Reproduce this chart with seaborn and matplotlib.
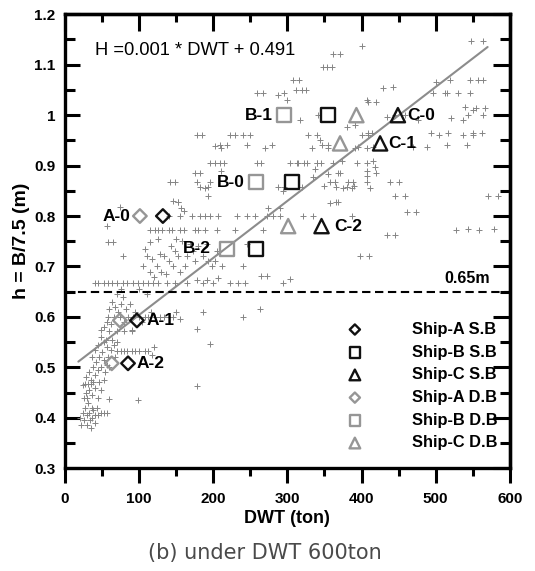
import matplotlib
matplotlib.use("Agg")
import matplotlib.pyplot as plt
import seaborn as sns
import numpy as np
import pandas as pd

# ---------------- data ----------------
# survey ships (grey '+' points), by band of h: DWT (ton) and h = B/7.5 (m)
band1_dwt = [20, 22, 24, 26, 27, 29, 30, 31, 33, 34,
             35, 36, 37, 38, 40, 41, 43, 45, 48, 52,
             56, 25, 28, 30, 33, 36, 40, 44, 24, 27,
             31, 35, 38, 48, 98, 60]
band1_h = [.40, .385, .41, .395, .42, .405, .385, .43, .41, .395,
           .38, .42, .40, .415, .405, .39, .42, .405, .41, .41,
           .41, .44, .45, .44, .455, .445, .46, .44, .465, .467,
           .467, .467, .47, .455, .435, .438]

band2_dwt = [28, 32, 35, 38, 40, 42, 44, 46, 48, 50,
             52, 54, 56, 58, 60, 46, 52, 36, 40, 44,
             48, 53, 57, 62, 66, 70, 75, 79, 84, 90,
             95, 100, 108, 112, 118, 120, 68, 64]
band2_h = [.48, .49, .475, .50, .485, .51, .495, .52, .50, .53,
           .515, .49, .505, .52, .50, .47, .475, .52, .535, .545,
           .56, .55, .54, .535, .545, .533, .533, .533, .533, .533,
           .533, .533, .533, .533, .525, .54, .52, .555]

band3_dwt = [48, 52, 56, 58, 60, 62, 64, 66, 68, 70,
             72, 74, 76, 78, 80, 82, 85, 88, 90, 92,
             95, 100, 104, 108, 112, 116, 122, 128, 134, 140,
             146, 150, 155, 186, 240, 263, 178, 195, 178, 60,
             70, 80, 90, 55, 70]
band3_h = [.575, .58, .59, .60, .615, .585, .63, .60, .62, .645,
           .61, .60, .625, .64, .59, .615, .60, .625, .575, .60,
           .61, .60, .59, .60, .60, .61, .60, .60, .60, .60,
           .60, .61, .595, .61, .60, .616, .577, .547, .464, .573,
           .573, .573, .573, .555, .55]

band4_dwt = [40, 45, 52, 58, 64, 70, 78, 84, 92, 98,
             105, 112, 119, 126, 137, 148, 164, 186, 199, 222,
             233, 294, 178, 191, 265, 398, 75, 100, 110, 206,
             243, 272, 303]
band4_h = [.667, .667, .667, .667, .667, .667, .667, .667, .667, .667,
           .667, .667, .667, .667, .667, .667, .667, .667, .667, .667,
           .667, .667, .674, .674, .682, .72, .655, .655, .645, .678,
           .667, .682, .676]

band5_dwt = [105, 110, 114, 118, 120, 124, 128, 130, 133, 136,
             140, 143, 146, 148, 152, 155, 158, 162, 165, 168,
             172, 176, 180, 186, 192, 198, 205, 212, 58, 126,
             150, 240, 245, 65, 78, 108, 115, 193, 202, 410]
band5_h = [.70, .72, .69, .715, .68, .70, .725, .69, .72, .685,
           .71, .74, .70, .73, .72, .69, .75, .70, .72, .745,
           .73, .71, .74, .72, .745, .70, .73, .70, .748, .755,
           .755, .70, .745, .748, .72, .734, .748, .71, .71, .72]

band6_dwt = [115, 121, 126, 131, 140, 144, 155, 160, 175, 179,
             189, 205, 229, 267, 528, 559, 434, 543, 579, 445,
             57]
band6_h = [.773, .773, .773, .773, .773, .773, .773, .773, .773, .773,
           .773, .773, .773, .773, .773, .773, .762, .775, .775, .762,
           .78]

band7_dwt = [140, 155, 171, 182, 189, 195, 206, 232, 245, 256,
             272, 280, 290, 321, 334, 461, 74, 146, 357, 387,
             474, 274, 290, 152, 157, 160]
band7_h = [.80, .80, .80, .80, .80, .80, .80, .80, .80, .80,
           .80, .80, .80, .80, .80, .807, .817, .83, .825, .80,
           .807, .815, .815, .827, .815, .81]

band8_dwt = [141, 178, 182, 195, 175, 211, 287, 319, 357, 366,
             380, 382, 389, 407, 438, 445, 335, 355, 337, 407,
             407, 195, 209, 259, 303, 314, 326, 340, 361, 394,
             407, 570, 296, 294, 182, 193, 193, 368, 364, 368,
             152, 202, 215, 265, 313, 323, 340, 345, 375, 387,
             411, 458, 366, 584, 373, 371, 415, 418, 420, 451,
             350, 390, 148, 189]
band8_h = [.867, .867, .857, .867, .885, .89, .857, .857, .867, .857,
           .857, .867, .867, .867, .867, .84, .877, .884, .894, .89,
           .88, .906, .906, .906, .906, .906, .906, .906, .906, .906,
           .906, .84, .857, .85, .885, .857, .84, .885, .867, .827,
           .827, .906, .906, .906, .906, .906, .906, .906, .855, .855,
           .855, .84, .827, .84, .91, .885, .91, .897, .885, .867,
           .86, .86, .867, .855]

band9_dwt = [185, 229, 249, 209, 218, 246, 279, 340, 346, 355,
             178, 222, 240, 202, 211, 270, 328, 333, 344, 355,
             391, 400, 409, 407, 380, 505, 537, 550, 515, 494,
             469, 434, 391, 409, 414, 395, 415, 488, 516, 550,
             562, 542, 445, 458, 476, 543, 537, 564, 521, 341,
             317]
band9_h = [.96, .96, .96, .94, .94, .94, .94, .96, .94, .94,
           .96, .96, .96, .938, .935, .935, .96, .935, .95, .935,
           .935, .96, .96, .935, .976, .96, .96, .96, .94, .964,
           .936, .996, .98, .964, .964, .936, .936, .936, .964, .964,
           .964, .94, 1.0, 1.0, .99, 1.0, .99, 1.0, .995, 1.0,
           .99]

band10_dwt = [361, 400, 348, 307, 312, 259, 287, 429, 407, 501,
              546, 546, 496, 515, 548, 539, 550, 371, 564, 442,
              420, 512, 530, 557, 564, 519, 555, 566, 354, 360,
              315, 320, 325, 267, 296, 299, 409]
band10_h = [1.122, 1.138, 1.095, 1.07, 1.05, 1.043, 1.04, 1.053, 1.03, 1.066,
            1.07, 1.043, 1.043, 1.043, 1.148, 1.016, 1.01, 1.122, 1.148, 1.055,
            1.027, 1.043, 1.043, 1.069, 1.069, 1.07, 1.015, 1.015, 1.095, 1.095,
            1.069, 1.049, 1.049, 1.043, 1.043, 1.03, 1.026]

# studied ships: single bottom (S.B) and double bottom (D.B)
ship_a_sb_dwt = [132, 97, 85]
ship_a_sb_h = [0.800, 0.593, 0.508]
ship_b_sb_dwt = [306, 355, 258]
ship_b_sb_h = [0.867, 1.000, 0.735]
ship_c_sb_dwt = [449, 425, 346]
ship_c_sb_h = [1.000, 0.944, 0.780]
ship_a_db_dwt = [101, 74, 63]
ship_a_db_h = [0.800, 0.593, 0.508]
ship_b_db_dwt = [258, 295, 218]
ship_b_db_h = [0.867, 1.000, 0.735]
ship_c_db_dwt = [393, 371, 301]
ship_c_db_h = [1.000, 0.944, 0.780]

ship_a_names = ["A-0", "A-1", "A-2"]
ship_b_names = ["B-0", "B-1", "B-2"]
ship_c_names = ["C-0", "C-1", "C-2"]

legend_labels = ["Ship-A S.B", "Ship-B S.B", "Ship-C S.B",
                 "Ship-A D.B", "Ship-B D.B", "Ship-C D.B"]

# regression line as drawn
fit_slope = 0.00113
fit_intercept = 0.491
fit_range = [18, 570]
equation_text = "H =0.001 * DWT + 0.491"
limit_h = 0.65

x_ticks = [0, 100, 200, 300, 400, 500, 600]
y_ticks = [0.3, 0.4, 0.5, 0.6, 0.7, 0.8, 0.9, 1.0, 1.1, 1.2]
y_tick_labels = ["0.3", "0.4", "0.5", "0.6", "0.7", "0.8", "0.9", "1", "1.1", "1.2"]

# ---------------- plot ----------------
sns.set_style("ticks")
plt.rcParams["font.family"] = ["Liberation Sans", "DejaVu Sans"]
plt.rcParams["text.color"] = "black"
plt.rcParams["axes.labelcolor"] = "black"
plt.rcParams["xtick.color"] = "black"
plt.rcParams["ytick.color"] = "black"

fig = plt.figure(figsize=(5.35, 5.71), dpi=100)
ax = fig.add_axes([0.1215, 0.180, 0.8315, 0.795])

all_dwt = (band1_dwt + band2_dwt + band3_dwt + band4_dwt + band5_dwt +
           band6_dwt + band7_dwt + band8_dwt + band9_dwt + band10_dwt)
all_h = (band1_h + band2_h + band3_h + band4_h + band5_h +
         band6_h + band7_h + band8_h + band9_h + band10_h)
pts = pd.DataFrame({"DWT": all_dwt, "h": all_h})
sns.scatterplot(data=pts, x="DWT", y="h", marker="+", color="#858585", s=13,
                linewidth=0.7, ax=ax, zorder=2)

fit_x = np.array(fit_range, dtype=float)
fit_df = pd.DataFrame({"x": fit_x, "y": fit_intercept + fit_slope * fit_x})
sns.lineplot(data=fit_df, x="x", y="y", color="#8c8c8c", linewidth=1.5, ax=ax, zorder=3)

ax.axhline(limit_h, color="black", linewidth=1.5, linestyle=(0, (4, 2.2)), zorder=3)

BLACK = "#111111"
GREY = "#969696"
groups = [
    (ship_a_sb_dwt, ship_a_sb_h, "D", 48, BLACK, legend_labels[0]),
    (ship_b_sb_dwt, ship_b_sb_h, "s", 105, BLACK, legend_labels[1]),
    (ship_c_sb_dwt, ship_c_sb_h, "^", 105, BLACK, legend_labels[2]),
    (ship_a_db_dwt, ship_a_db_h, "D", 48, GREY, legend_labels[3]),
    (ship_b_db_dwt, ship_b_db_h, "s", 105, GREY, legend_labels[4]),
    (ship_c_db_dwt, ship_c_db_h, "^", 105, GREY, legend_labels[5]),
]
handles = []
for gx, gy, mk, sz, col, lab in groups:
    sc = ax.scatter(gx, gy, marker=mk, s=sz, facecolors="none", edgecolors=col,
                    linewidths=1.7, zorder=5, label=lab)
    handles.append(sc)

lab_font = dict(fontsize=12.5, fontweight="bold", va="center", color="black")
ax.annotate(ship_a_names[0], (ship_a_db_dwt[0], ship_a_db_h[0]), xytext=(-7, 0),
            textcoords="offset points", ha="right", **lab_font)
for name, x, y, dx in zip(ship_a_names[1:], ship_a_sb_dwt[1:], ship_a_sb_h[1:], [7, 6]):
    ax.annotate(name, (x, y), xytext=(dx, 0), textcoords="offset points", ha="left", **lab_font)
for name, x, y, dx in zip(ship_b_names, ship_b_db_dwt, ship_b_db_h, [-8.5, -8, -11]):
    ax.annotate(name, (x, y), xytext=(dx, 0), textcoords="offset points", ha="right", **lab_font)
for name, x, y, dx in zip(ship_c_names, ship_c_sb_dwt, ship_c_sb_h, [7, 6, 9]):
    ax.annotate(name, (x, y), xytext=(dx, 0), textcoords="offset points", ha="left", **lab_font)

ax.text(0.067, 0.921, equation_text, transform=ax.transAxes, ha="left", va="center",
        fontsize=13.2, fontweight="normal")
ax.text(0.955, 0.418, "0.65m", transform=ax.transAxes, ha="right", va="center",
        fontsize=11.5, fontweight="bold")

leg = ax.legend(handles=handles, labels=legend_labels, loc="upper left",
                bbox_to_anchor=(0.600, 0.355), frameon=False, scatterpoints=1,
                markerscale=0.75, handlelength=1.0, handletextpad=3.0,
                labelspacing=0.47, borderpad=0.4, borderaxespad=0.5,
                prop=dict(size=11.8, weight="bold"))
for t in leg.get_texts():
    t.set_color("black")

# axes limits / ticks
ax.set_xlim(0, 600)
ax.set_ylim(0.3, 1.2)
ax.set_xticks(x_ticks)
ax.set_xticks(np.arange(50, 600, 100), minor=True)
ax.set_yticks(y_ticks)
ax.set_yticklabels(y_tick_labels)
ax.set_yticks(np.arange(0.35, 1.2, 0.1), minor=True)

for sp in ax.spines.values():
    sp.set_linewidth(2.4)
    sp.set_color("black")
    sp.set_visible(True)

ax.tick_params(axis="x", which="major", direction="out", length=11, width=2.2, pad=6,
               labelsize=11)
ax.tick_params(axis="x", which="minor", direction="out", length=6, width=2.2)
ax.tick_params(axis="y", which="major", direction="in", length=11, width=2.2, pad=7,
               labelsize=11)
ax.tick_params(axis="y", which="minor", direction="in", length=7, width=2.2)
for lbl in ax.get_xticklabels() + ax.get_yticklabels():
    lbl.set_fontweight("bold")

top = ax.secondary_xaxis("top")
top.set_xticks(x_ticks)
top.set_xticks(np.arange(50, 600, 100), minor=True)
top.tick_params(which="major", direction="in", length=12, width=2.2, labeltop=False)
top.tick_params(which="minor", direction="in", length=6, width=2.2)
top.spines["top"].set_linewidth(2.4)

right = ax.secondary_yaxis("right")
right.set_yticks(y_ticks)
right.set_yticks(np.arange(0.35, 1.2, 0.1), minor=True)
right.tick_params(which="major", direction="in", length=12, width=2.2, labelright=False)
right.tick_params(which="minor", direction="in", length=7, width=2.2)
right.spines["right"].set_linewidth(2.4)

ax.set_xlabel("DWT (ton)", fontsize=13, fontweight="bold", labelpad=3)
ax.set_ylabel("h = B/7.5 (m)", fontsize=14, fontweight="bold", labelpad=3)

fig.text(0.495, 0.0315, "(b) under DWT 600ton", ha="center", va="center", fontsize=15,
         color="#4a4a4a", family=["DejaVu Sans"])

fig.savefig("out.png", dpi=100)
